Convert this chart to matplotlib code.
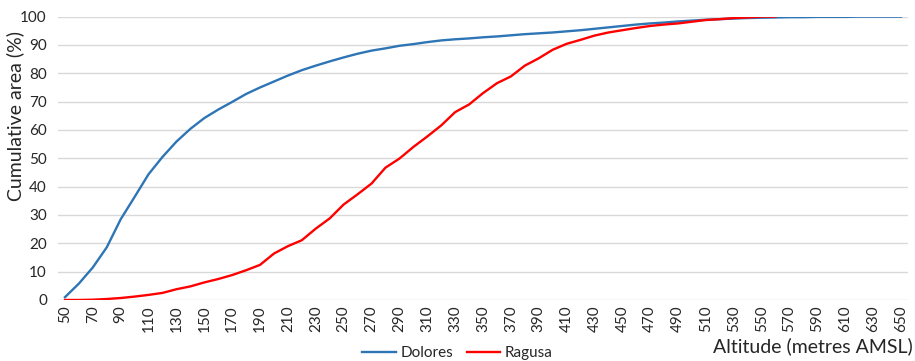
import matplotlib
matplotlib.use("Agg")
import matplotlib.pyplot as plt

# altitude classes (m AMSL) and cumulative share of area (%)
altitude = list(range(50, 660, 10))

dolores = [1.0, 5.8, 11.5, 18.6, 28.5, 36.4, 44.4, 50.5, 55.9, 60.4,
           64.2, 67.2, 69.9, 72.7, 75.0, 77.1, 79.2, 81.1, 82.7, 84.2,
           85.6, 86.9, 88.0, 88.8, 89.7, 90.3, 91.0, 91.6, 92.0, 92.3,
           92.7, 93.0, 93.4, 93.8, 94.1, 94.4, 94.8, 95.2, 95.7, 96.2,
           96.7, 97.2, 97.6, 97.9, 98.3, 98.6, 98.9, 99.1, 99.3, 99.5,
           99.6, 99.7, 99.8, 99.8, 99.9, 99.9, 99.9, 100, 100, 100, 100]

ragusa = [0, 0, 0.1, 0.35, 0.7, 1.2, 1.8, 2.5, 3.8, 4.8,
          6.2, 7.4, 8.8, 10.5, 12.4, 16.4, 19.0, 21.1, 25.2, 28.8,
          33.7, 37.3, 41.1, 46.7, 49.9, 54.0, 57.7, 61.6, 66.3, 69.0,
          73.0, 76.5, 78.9, 82.7, 85.3, 88.3, 90.4, 91.8, 93.3, 94.4,
          95.2, 96.0, 96.7, 97.2, 97.6, 98.2, 98.8, 99.1, 99.5, 99.7,
          100, 100]

x_labels = altitude[::2]
y_ticks = list(range(0, 101, 10))

plt.rcParams['font.family'] = ['Lato', 'DejaVu Sans']
plt.rcParams['text.color'] = '#262626'

fig = plt.figure(figsize=(9.15, 3.61), dpi=100)
ax = fig.add_axes([0.0634, 0.169, 0.929, 0.785])

ax.plot(altitude, dolores, color='#2e75b6', lw=1.7, label='Dolores')
ax.plot(altitude[:len(ragusa)], ragusa, color='#ff0000', lw=1.7, label='Ragusa')

ax.set_xlim(45, 655)
ax.set_ylim(0, 100)
ax.set_xticks(x_labels)
ax.set_xticklabels([str(v) for v in x_labels], rotation=90)
ax.set_yticks(y_ticks)
ax.tick_params(length=0, labelsize=11, colors='#262626')
ax.tick_params(axis='y', pad=8)
ax.tick_params(axis='x', pad=4)

ax.grid(axis='y', color='#d9d9d9', lw=1)
ax.set_axisbelow(True)
for s in ax.spines.values():
    s.set_visible(False)

# axis titles placed in figure coordinates
fig.text(15 / 915, 0.68, 'Cumulative area (%)', rotation=90, ha='center', va='center', fontsize=14)
fig.text(0.997, 0.04, 'Altitude (metres AMSL)', ha='right', va='center', fontsize=14)

fig.legend(loc='center', bbox_to_anchor=(0.5, 0.022), ncol=2, frameon=False,
           fontsize=11, handlelength=2.2, handletextpad=0.3, columnspacing=0.9)

fig.savefig('out.png', dpi=100)
